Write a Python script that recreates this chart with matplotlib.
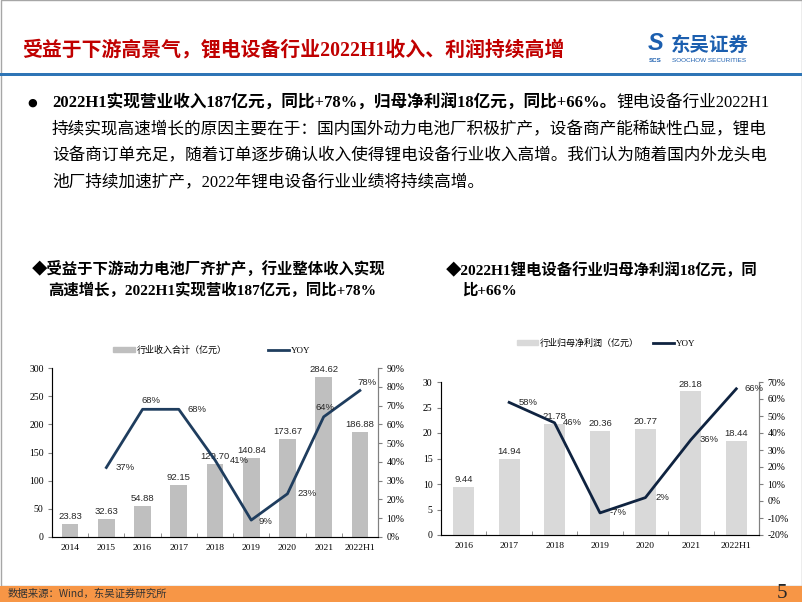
import numpy as np
import matplotlib
matplotlib.use('Agg')
import matplotlib.pyplot as plt
from matplotlib.patches import Rectangle, Patch
from matplotlib.lines import Line2D
from matplotlib.text import Annotation
from matplotlib.ticker import FuncFormatter

CJK = ['Liberation Serif', 'Noto Sans CJK SC', 'DejaVu Sans']
SANS = ['Liberation Sans', 'Noto Sans CJK SC', 'DejaVu Sans']
plt.rcParams['font.family'] = CJK

# chart data
rev_years = ['2014', '2015', '2016', '2017', '2018', '2019', '2020', '2021', '2022H1']
revenue = [23.83, 32.63, 54.88, 92.15, 129.70, 140.84, 173.67, 284.62, 186.88]
rev_yoy = [None, 0.37, 0.68, 0.68, 0.41, 0.09, 0.23, 0.64, 0.78]

np_years = ['2016', '2017', '2018', '2019', '2020', '2021', '2022H1']
net_profit = [9.44, 14.94, 21.78, 20.36, 20.77, 28.18, 18.44]
np_yoy = [None, 0.58, 0.46, -0.07, 0.02, 0.36, 0.66]

W, H = 802, 602
fig = plt.figure(figsize=(W / 100, H / 100), dpi=100)


def fx(x):
    return x / W


def fy(y):
    return 1 - y / H


# slide frame, header rule and footer band
fig.add_artist(Rectangle((fx(0.5), fy(586)), fx(801), 586 / H, transform=fig.transFigure,
                         fill=False, edgecolor='#A6A6A6', lw=1))
fig.add_artist(Rectangle((0, fy(76)), 1, 3.5 / H, transform=fig.transFigure,
                         color='#2E75B6', lw=0))
fig.add_artist(Rectangle((0, 0), 1, 16 / H, transform=fig.transFigure,
                         color='#F79646', lw=0))

fig.text(fx(22), fy(50), '受益于下游高景气，锂电设备行业2022H1收入、利润持续高增',
         fontsize=14.3, fontweight='bold', color='#C00000', va='center')

# logo
fig.text(fx(648), fy(44), 'S', fontsize=17, fontweight='bold', style='italic',
         color='#1C5FAF', va='center', family=SANS)
fig.text(fx(649), fy(61), 'SCS', fontsize=4.5, fontweight='bold', color='#1C5FAF',
         va='center', family=SANS)
fig.text(fx(671), fy(45), '东吴证券', fontsize=14, fontweight='bold', color='#1C5FAF',
         va='center', family=['Noto Sans CJK SC'])
fig.text(fx(672), fy(61), 'SOOCHOW SECURITIES', fontsize=4.6, color='#1C5FAF',
         va='center', family=SANS)

# bullet paragraph
fs = 12.0
fig.text(fx(27), fy(103), '●', fontsize=8, va='center', family=['DejaVu Sans'])
bold = fig.text(fx(52), fy(103), '2022H1实现营业收入187亿元，同比+78%，归母净利润18亿元，同比+66%。',
                fontsize=fs, fontweight='bold', va='center')
fig.add_artist(Annotation('锂电设备行业2022H1', xy=(1, 0.5), xycoords=bold, fontsize=fs,
                          va='center', ha='left', annotation_clip=False))
para = ['持续实现高速增长的原因主要在于：国内国外动力电池厂积极扩产，设备商产能稀缺性凸显，锂电',
        '设备商订单充足，随着订单逐步确认收入使得锂电设备行业收入高增。我们认为随着国内外龙头电',
        '池厂持续加速扩产，2022年锂电设备行业业绩将持续高增。']
for i, line in enumerate(para):
    fig.text(fx(52), fy(130 + 26.7 * i), line, fontsize=fs, va='center')

# chart subtitles
sub_fs = 11.1
fig.text(fx(32), fy(270), '◆受益于下游动力电池厂齐扩产，行业整体收入实现', fontsize=sub_fs,
         fontweight='bold', va='center')
fig.text(fx(48), fy(290), '高速增长，2022H1实现营收187亿元，同比+78%', fontsize=sub_fs,
         fontweight='bold', va='center')
fig.text(fx(446), fy(270), '◆2022H1锂电设备行业归母净利润18亿元，同', fontsize=sub_fs,
         fontweight='bold', va='center')
fig.text(fx(462), fy(290), '比+66%', fontsize=sub_fs, fontweight='bold', va='center')

# footer
fig.text(fx(8), fy(594), '数据来源：Wind，东吴证券研究所', fontsize=7.5, color='#333333',
         va='center', family=['Noto Sans CJK SC'])
fig.text(fx(777), fy(593), '5', fontsize=15, color='#262626', va='center')

pct = FuncFormatter(lambda v, p: f'{v * 100:.0f}%')


def combo(rect, cats, bars, yoy, bar_color, line_color, ylim, yticks, y2lim, y2ticks,
          yoy_offsets, legend_label, legend_center, colspace):
    ax = fig.add_axes(rect)
    x = np.arange(len(cats))
    ax.bar(x, bars, width=0.46, color=bar_color, zorder=2)
    ax.set_xlim(-0.5, len(cats) - 0.5)
    ax.set_ylim(*ylim)
    ax.set_yticks(yticks)
    ax.set_xticks(x)
    ax.set_xticklabels(cats)
    ax.set_xticks(np.arange(len(cats) - 1) + 0.5, minor=True)
    ax.tick_params(axis='x', which='major', length=0, pad=5, labelsize=6.8)
    ax.tick_params(axis='x', which='minor', direction='in', length=3, color='#808080')
    ax.tick_params(axis='y', length=3, pad=3, labelsize=7, color='#808080')
    ax.spines['top'].set_visible(False)
    for s in ['left', 'bottom', 'right']:
        ax.spines[s].set_color('#808080')
        ax.spines[s].set_linewidth(0.8)
    for xi, v in zip(x, bars):
        ax.annotate(f'{v:.2f}', (xi, v), xytext=(0, 2), textcoords='offset points',
                    ha='center', va='bottom', fontsize=6.8, family=SANS,
                    color='#262626', annotation_clip=False, zorder=4)
    ax2 = ax.twinx()
    xs = [xi for xi, v in zip(x, yoy) if v is not None]
    ys = [v for v in yoy if v is not None]
    ax2.plot(xs, ys, color=line_color, lw=2, zorder=3)
    ax2.set_ylim(*y2lim)
    ax2.set_yticks(y2ticks)
    ax2.yaxis.set_major_formatter(pct)
    ax2.tick_params(axis='y', length=3, pad=3, labelsize=7, color='#808080')
    ax2.spines['top'].set_visible(False)
    ax2.spines['right'].set_color('#808080')
    ax2.spines['right'].set_linewidth(0.8)
    for xi, v, (dx, dy, ha) in zip(xs, ys, yoy_offsets):
        ax2.annotate(f'{v * 100:.0f}%', (xi, v), xytext=(dx, dy), textcoords='offset points',
                     ha=ha, va='center', fontsize=6.8, family=SANS, color='#262626',
                     annotation_clip=False, zorder=5)
    handles = [Patch(color=bar_color), Line2D([], [], color=line_color, lw=2)]
    fig.legend(handles, [legend_label, 'YOY'], loc='center', ncol=2,
               bbox_to_anchor=legend_center, frameon=False, handlelength=2.4,
               handleheight=0.6, columnspacing=colspace, handletextpad=0.2,
               prop={'family': ['Liberation Serif', 'Noto Sans CJK SC'], 'size': 6.5})
    return ax, ax2


combo([fx(52), fy(537), 326 / W, 169 / H], rev_years, revenue, rev_yoy,
      '#BFBFBF', '#1F3D5E', (0, 300), np.arange(0, 301, 50),
      (0, 0.9), np.arange(0, 0.91, 0.1),
      [(7, 0, 'left'), (6, 6, 'center'), (6.5, 0, 'left'), (11, 0, 'left'),
       (5.5, -1, 'left'), (7, 0, 'left'), (1, 6.7, 'center'), (5, 5.5, 'center')],
      '行业收入合计（亿元）', (fx(212), fy(350)), 4.5)

combo([fx(441), fy(535), 318 / W, 153 / H], np_years, net_profit, np_yoy,
      '#D9D9D9', '#0F2340', (0, 30), np.arange(0, 31, 5),
      (-0.2, 0.7), np.arange(-0.2, 0.71, 0.1),
      [(6.7, 0, 'left'), (6.2, 0, 'left'), (7.2, 0, 'left'), (7.2, 0, 'left'),
       (6, 0, 'left'), (6, 0, 'left')],
      '行业归母净利润（亿元）', (fx(606), fy(343)), 1.5)

fig.savefig('out.png', dpi=100)
